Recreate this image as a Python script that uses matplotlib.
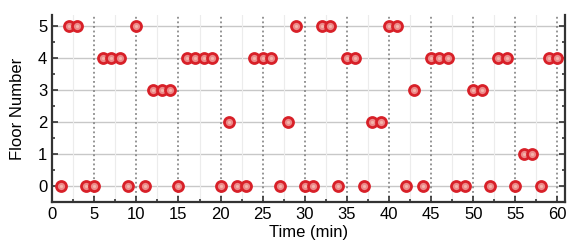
import numpy as np
import matplotlib.pyplot as plt
from matplotlib.ticker import MultipleLocator

plt.rcParams['font.family'] = ['Liberation Sans', 'DejaVu Sans']

time_min = np.arange(1, 61)
floor = [0, 5, 5, 0, 0, 4, 4, 4, 0, 5,
         0, 3, 3, 3, 0, 4, 4, 4, 4, 0,
         2, 0, 0, 4, 4, 4, 0, 2, 5, 0,
         0, 5, 5, 0, 4, 4, 0, 2, 2, 5,
         5, 0, 3, 0, 4, 4, 4, 0, 0, 3,
         3, 0, 4, 4, 0, 1, 1, 0, 4, 4]

fig = plt.figure(figsize=(5.8, 2.5), dpi=100)
ax = fig.add_axes([0.09, 0.192, 0.884, 0.748])

# grid: solid light horizontal, dotted vertical at every 5 min
for y in range(6):
    ax.axhline(y, color='#c8c8c8', lw=1.0, zorder=0)
for x in np.arange(2.5, 61, 5):
    ax.axvline(x, color='#ececec', lw=0.8, zorder=0)
for x in range(5, 61, 5):
    ax.axvline(x, color='#777777', lw=1.1, ls=(0, (1.2, 1.8)), zorder=0)

ax.plot(time_min, floor, ls='none', marker='o', ms=7.2,
        mfc='#ec8a8a', mec='#d82028', mew=2.0, zorder=3)
ax.plot(time_min, floor, ls='none', marker='o', ms=2.3,
        mfc='#f4b4aa', mec='none', zorder=4)

ax.set_xlim(0, 60.9)
ax.set_ylim(-0.5, 5.35)
ax.xaxis.set_major_locator(MultipleLocator(5))
ax.xaxis.set_minor_locator(MultipleLocator(2.5))
ax.yaxis.set_major_locator(MultipleLocator(1))
ax.yaxis.set_minor_locator(MultipleLocator(0.5))
ax.tick_params(which='both', direction='in', right=True, labelsize=12,
               color='#333333', width=1.2)
ax.tick_params(which='major', length=4)
ax.tick_params(which='minor', length=2.5)

ax.spines['top'].set_visible(False)
for s in ['left', 'bottom', 'right']:
    ax.spines[s].set_linewidth(1.6)
    ax.spines[s].set_color('#333333')

ax.set_xlabel('Time (min)', fontsize=12, labelpad=2)
ax.set_ylabel('Floor Number', fontsize=12, labelpad=9)

fig.savefig('out.png', dpi=100)
